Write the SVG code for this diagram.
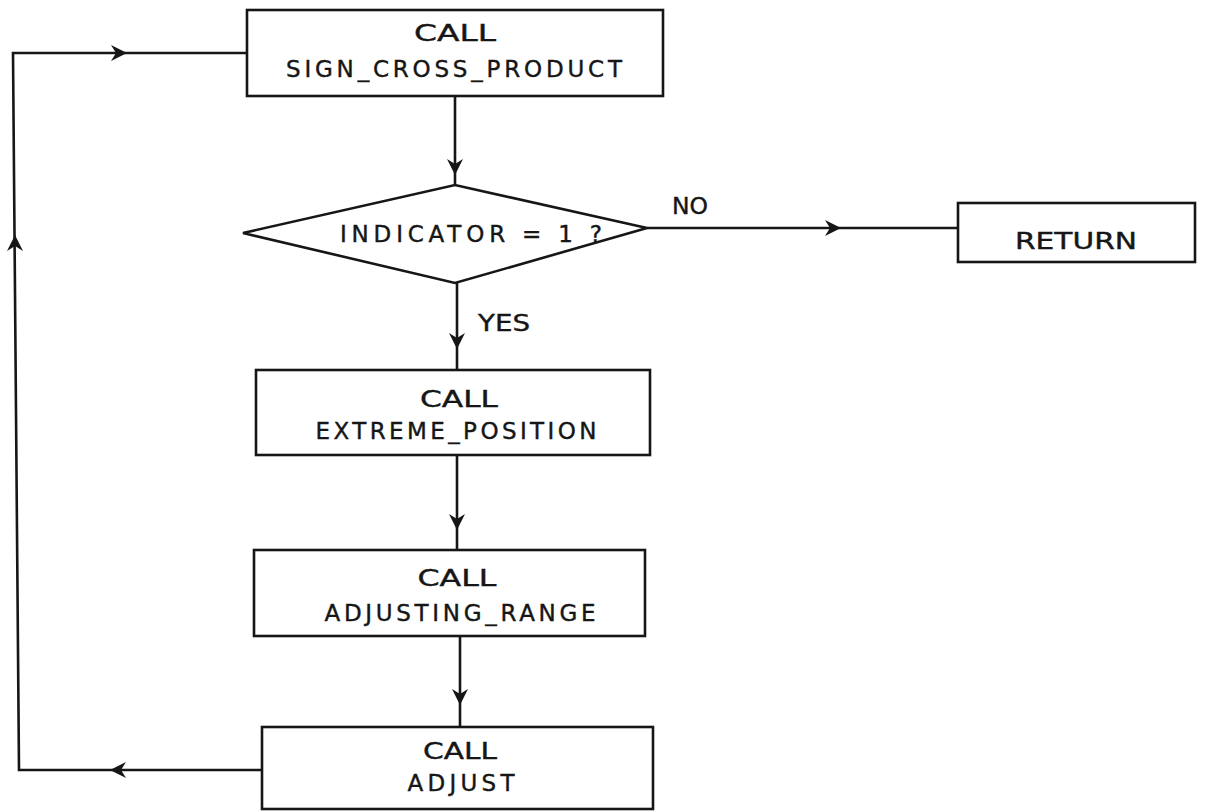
<svg xmlns="http://www.w3.org/2000/svg" xmlns:xlink="http://www.w3.org/1999/xlink" width="1205" height="811" viewBox="0 0 1205 811">
<style>
.shape{fill:none;stroke:#161616;stroke-width:2.6}
.line{fill:none;stroke:#161616;stroke-width:2.6}
.t{font-family:"DejaVu Sans","Liberation Sans",sans-serif;font-size:23px;fill:#161616;stroke:#161616;stroke-width:0.4;text-anchor:middle}
</style>
<defs>
<path id="ah" d="M0,0 L-16,-8 L-11,0 L-16,8 Z" fill="#161616"/>
</defs>
<rect width="1205" height="811" fill="#ffffff"/>
<g id="connectors">
<path class="line" d="M455,96 L455,185"/>
<path class="line" d="M647,228 L958,228"/>
<path class="line" d="M457,283 L457,370"/>
<path class="line" d="M457,455 L457,550"/>
<path class="line" d="M460,636 L460,727"/>
<path class="line" d="M262,770 L19,770 L13,53 L247,53"/>
<use xlink:href="#ah" transform="translate(127,53)"/>
<use xlink:href="#ah" transform="translate(455,175) rotate(90)"/>
<use xlink:href="#ah" transform="translate(841,228)"/>
<use xlink:href="#ah" transform="translate(457,349) rotate(90)"/>
<use xlink:href="#ah" transform="translate(457,530) rotate(90)"/>
<use xlink:href="#ah" transform="translate(460,705) rotate(90)"/>
<use xlink:href="#ah" transform="translate(110,770) rotate(180)"/>
<use xlink:href="#ah" transform="translate(15,235) rotate(-90)"/>
<text class="t" x="690" y="214" textLength="36" lengthAdjust="spacingAndGlyphs">NO</text>
<text class="t" x="504" y="331" textLength="52" lengthAdjust="spacingAndGlyphs">YES</text>
</g>
<g id="sign_cross_product">
<rect class="shape" x="247" y="10" width="416" height="86"/>
<text class="t" x="455" y="41" textLength="82" lengthAdjust="spacingAndGlyphs">CALL</text>
<text class="t" x="454" y="77" textLength="336" lengthAdjust="spacing">SIGN_CROSS_PRODUCT</text>
</g>
<g id="indicator">
<polygon class="shape" points="243,233 455,185 647,228 455,283"/>
<text class="t" x="471" y="242" textLength="262" lengthAdjust="spacing">INDICATOR = 1 ?</text>
</g>
<g id="return">
<rect class="shape" x="958" y="203" width="237" height="59"/>
<text class="t" x="1076" y="249" textLength="122" lengthAdjust="spacingAndGlyphs">RETURN</text>
</g>
<g id="extreme_position">
<rect class="shape" x="256" y="370" width="394" height="85"/>
<text class="t" x="459" y="407" textLength="78" lengthAdjust="spacingAndGlyphs">CALL</text>
<text class="t" x="456" y="439" textLength="281" lengthAdjust="spacing">EXTREME_POSITION</text>
</g>
<g id="adjusting_range">
<rect class="shape" x="254" y="550" width="391" height="86"/>
<text class="t" x="457" y="586" textLength="79" lengthAdjust="spacingAndGlyphs">CALL</text>
<text class="t" x="460" y="621" textLength="271" lengthAdjust="spacing">ADJUSTING_RANGE</text>
</g>
<g id="adjust">
<rect class="shape" x="262" y="727" width="391" height="82"/>
<text class="t" x="460" y="759" textLength="74" lengthAdjust="spacingAndGlyphs">CALL</text>
<text class="t" x="461" y="791" textLength="107" lengthAdjust="spacing">ADJUST</text>
</g>
</svg>
